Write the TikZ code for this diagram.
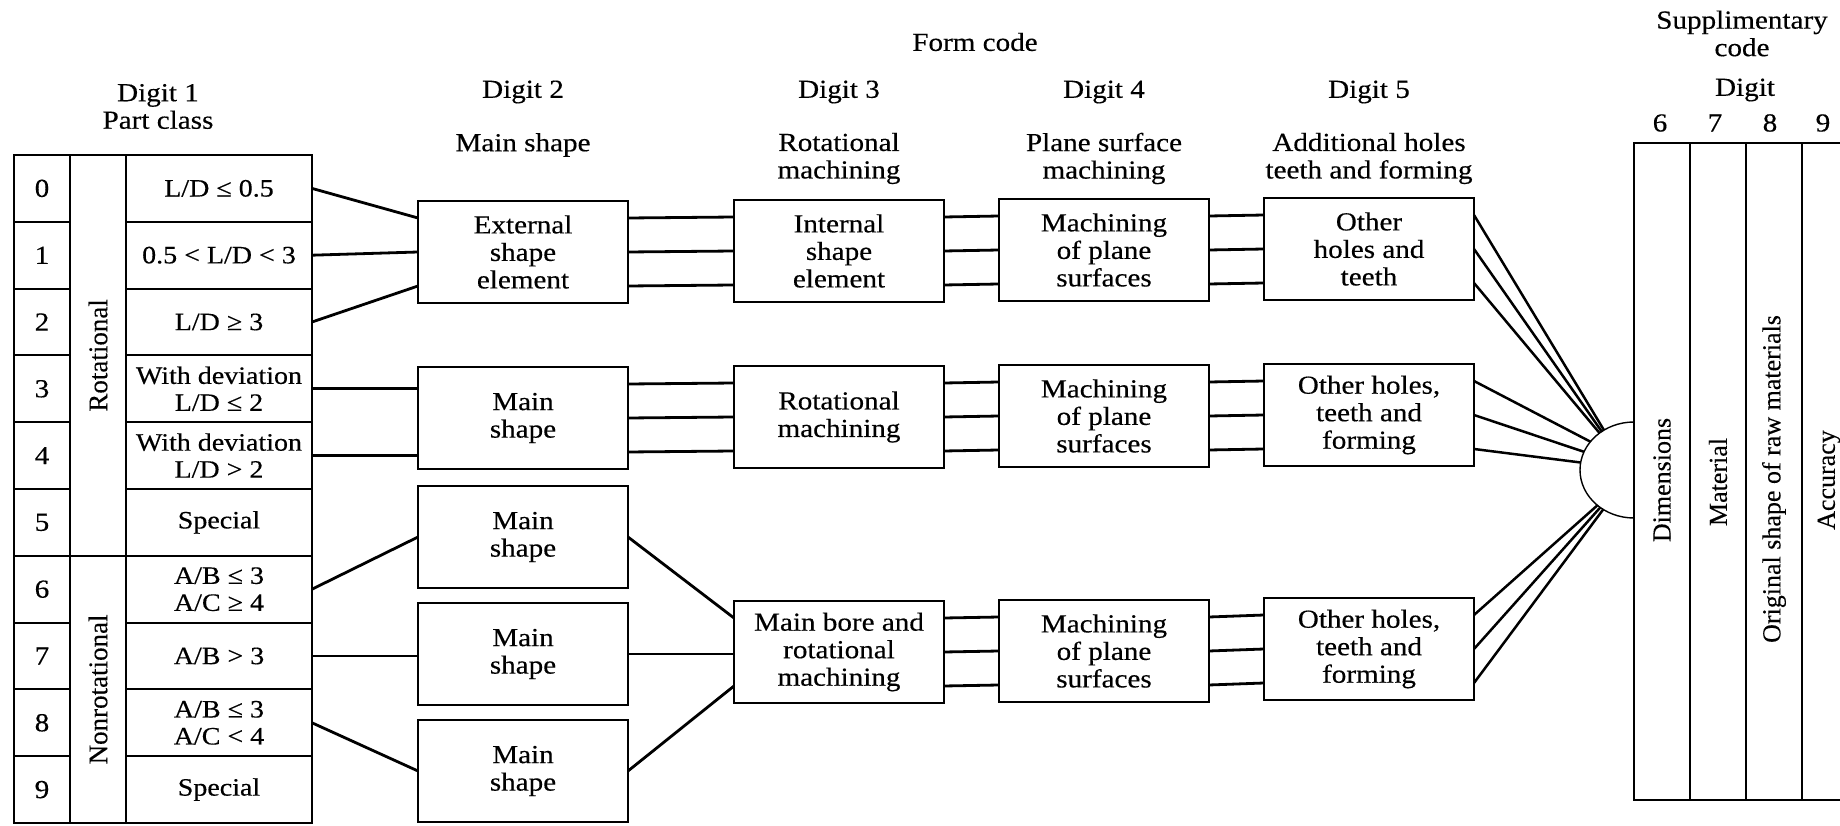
\documentclass[tikz,border=0pt]{standalone}
\usepackage{fontspec}
\setmainfont{Liberation Serif}[FakeStretch=1.12, FakeBold=0.35]
\newfontfamily\uprightfont{Liberation Serif}[FakeBold=0.2]
\usetikzlibrary{calc,shapes.geometric}

\begin{document}
\begin{tikzpicture}[x=1pt,y=-1pt,
  every node/.style={inner sep=0pt, outer sep=0pt, align=center,
    font=\fontsize{26}{27.5}\selectfont},
  box/.style={draw, line width=2.2pt, minimum width=210pt, minimum height=102pt, anchor=north west},
  cell/.style={draw, line width=2pt, anchor=north west, minimum height=66.8pt},
  numcell/.style={cell, minimum width=56pt},
  condcell/.style={cell, minimum width=186pt, font=\fontsize{25}{27}\selectfont},
  classcell/.style={draw, line width=2pt, anchor=north west, minimum width=56pt},
  suppcol/.style={draw, line width=1.8pt, anchor=north west, minimum width=56pt, minimum height=657pt},
  vlabel/.style={rotate=90, font=\uprightfont\fontsize{26}{28}\selectfont},
  link/.style={line width=2.8pt},
  fan/.style={line width=2.5pt},
  arcline/.style={line width=1.4pt}
]
\useasboundingbox (0,0) rectangle (1840,826);
\fill[white] (0,0) rectangle (1840,826);
\clip (0,0) rectangle (1840,826);

% ---------- headings ----------
\node (formcode) at (975,42) {Form code};
\node (h1) at (158,106.5) {Digit 1\\Part class};
\node (h2) at (523,92) {Digit 2};
\node (h2t) at (523,145) {Main shape};
\node (h3) at (839,92) {Digit 3};
\node (h3t) at (839,158.5) {Rotational\\machining};
\node (h4) at (1104,92) {Digit 4};
\node (h4t) at (1104,158.5) {Plane surface\\machining};
\node (h5) at (1369,92) {Digit 5};
\node (h5t) at (1369,158.5) {Additional holes\\teeth and forming};

% ---------- digit 1: part class table ----------
\node[numcell] (n0) at (14,155)   {0};
\node[numcell] (n1) at (14,221.8) {1};
\node[numcell] (n2) at (14,288.6) {2};
\node[numcell] (n3) at (14,355.4) {3};
\node[numcell] (n4) at (14,422.2) {4};
\node[numcell] (n5) at (14,489)   {5};
\node[numcell] (n6) at (14,555.8) {6};
\node[numcell] (n7) at (14,622.6) {7};
\node[numcell] (n8) at (14,689.4) {8};
\node[numcell] (n9) at (14,756.2) {9};

\node[classcell, minimum height=400.8pt] (rot) at (70,155) {};
\node[classcell, minimum height=267.2pt] (nonrot) at (70,555.8) {};
\node[rotate=90, font=\uprightfont\fontsize{27}{28}\selectfont] (rotlab) at (rot.center) {Rotational};
\node[rotate=90, font=\uprightfont\fontsize{27}{28}\selectfont] (nonrotlab) at (nonrot.center) {Nonrotational};

\node[condcell] (c0) at (126,155)   {L/D ≤ 0.5};
\node[condcell] (c1) at (126,221.8) {0.5 < L/D < 3};
\node[condcell] (c2) at (126,288.6) {L/D ≥ 3};
\node[condcell] (c3) at (126,355.4) {With deviation\\L/D ≤ 2};
\node[condcell] (c4) at (126,422.2) {With deviation\\L/D > 2};
\node[condcell] (c5) at (126,489)   {Special};
\node[condcell] (c6) at (126,555.8) {A/B ≤ 3\\A/C ≥ 4};
\node[condcell] (c7) at (126,622.6) {A/B > 3};
\node[condcell] (c8) at (126,689.4) {A/B ≤ 3\\A/C < 4};
\node[condcell] (c9) at (126,756.2) {Special};

% ---------- digit 2 ----------
\node[box] (ext) at (418,201) {External\\shape\\element};
\node[box] (ms2) at (418,367) {Main\\shape};
\node[box] (ms3) at (418,486) {Main\\shape};
\node[box] (ms4) at (418,603) {Main\\shape};
\node[box] (ms5) at (418,720) {Main\\shape};

% ---------- digit 3 ----------
\node[box] (int)  at (734,200) {Internal\\shape\\element};
\node[box] (rotm) at (734,366) {Rotational\\machining};
\node[box] (bore) at (734,601) {Main bore and\\rotational\\machining};

% ---------- digit 4 ----------
\node[box] (mp1) at (999,199) {Machining\\of plane\\surfaces};
\node[box] (mp2) at (999,365) {Machining\\of plane\\surfaces};
\node[box] (mp3) at (999,600) {Machining\\of plane\\surfaces};

% ---------- digit 5 ----------
\node[box] (oh1) at (1264,198) {Other\\holes and\\teeth};
\node[box] (oh2) at (1264,364) {Other holes,\\teeth and\\forming};
\node[box] (oh3) at (1264,598) {Other holes,\\teeth and\\forming};

% ---------- supplementary code ----------
\node (supp) at (1742,33.5) {Supplimentary\\code};
\node (sdigit) at (1745,90) {Digit};
\node (k6) at (1660,123) {6};
\node (k7) at (1715,123) {7};
\node (k8) at (1770,123) {8};
\node (k9) at (1823,123) {9};

\node[suppcol] (s6) at (1634,143) {};
\node[suppcol] (s7) at (1690,143) {};
\node[suppcol] (s8) at (1746,143) {};
\node[suppcol] (s9) at (1802,143) {};
\node[vlabel] (l6) at (1662,480) {Dimensions};
\node[vlabel] (l7) at (1718,482) {Material};
\node[vlabel] (l8) at (1774,479) {Original shape of raw materials};
\node[vlabel] (l9) at (1829,480) {Accuracy};

% collector half-ellipse on the left side of the supplementary block
\node[ellipse, minimum width=108pt, minimum height=96pt] (sc) at (1634,470) {};
\draw[arcline] (sc.north) arc[start angle=90, end angle=270, x radius=54pt, y radius=48pt];

% ---------- connectors: part class -> digit 2 ----------
\draw[link] (c0.east) -- ($(ext.north west)!0.1667!(ext.south west)$);
\draw[link] (c1.east) -- (ext.west);
\draw[link] (c2.east) -- ($(ext.north west)!0.8333!(ext.south west)$);
\draw[link] (c3.east) -- (c3.east -| ms2.west);
\draw[link] (c4.east) -- (c4.east -| ms2.west);
\draw[link] (c6.east) -- (ms3.west);
\draw[link] (c7.east) -- (c7.east -| ms4.west);
\draw[link] (c8.east) -- (ms5.west);

% ---------- connectors: digit 2 -> digit 3 (lower group) ----------
\draw[link] (ms3.east) -- ($(bore.north west)!0.1667!(bore.south west)$);
\draw[link] (ms4.east) -- (ms4.east -| bore.west);
\draw[link] (ms5.east) -- ($(bore.north west)!0.8333!(bore.south west)$);

% ---------- triple parallel connectors ----------
\foreach \a/\b in {ext/int, ms2/rotm, int/mp1, rotm/mp2, bore/mp3, mp1/oh1, mp2/oh2, mp3/oh3}
  \foreach \f in {0.1667,0.5,0.8333}
    \draw[link] ($(\a.north east)!\f!(\a.south east)$) -- ($(\b.north west)!\f!(\b.south west)$);

% ---------- fan into the collector ----------
\foreach \b/\p/\q/\r in {oh1/127/130/133, oh2/147/160/172, oh3/224/228/232} {
  \draw[fan] ($(\b.north east)!0.1667!(\b.south east)$) -- (sc.\p);
  \draw[fan] (\b.east) -- (sc.\q);
  \draw[fan] ($(\b.north east)!0.8333!(\b.south east)$) -- (sc.\r);
}
\end{tikzpicture}
\end{document}
